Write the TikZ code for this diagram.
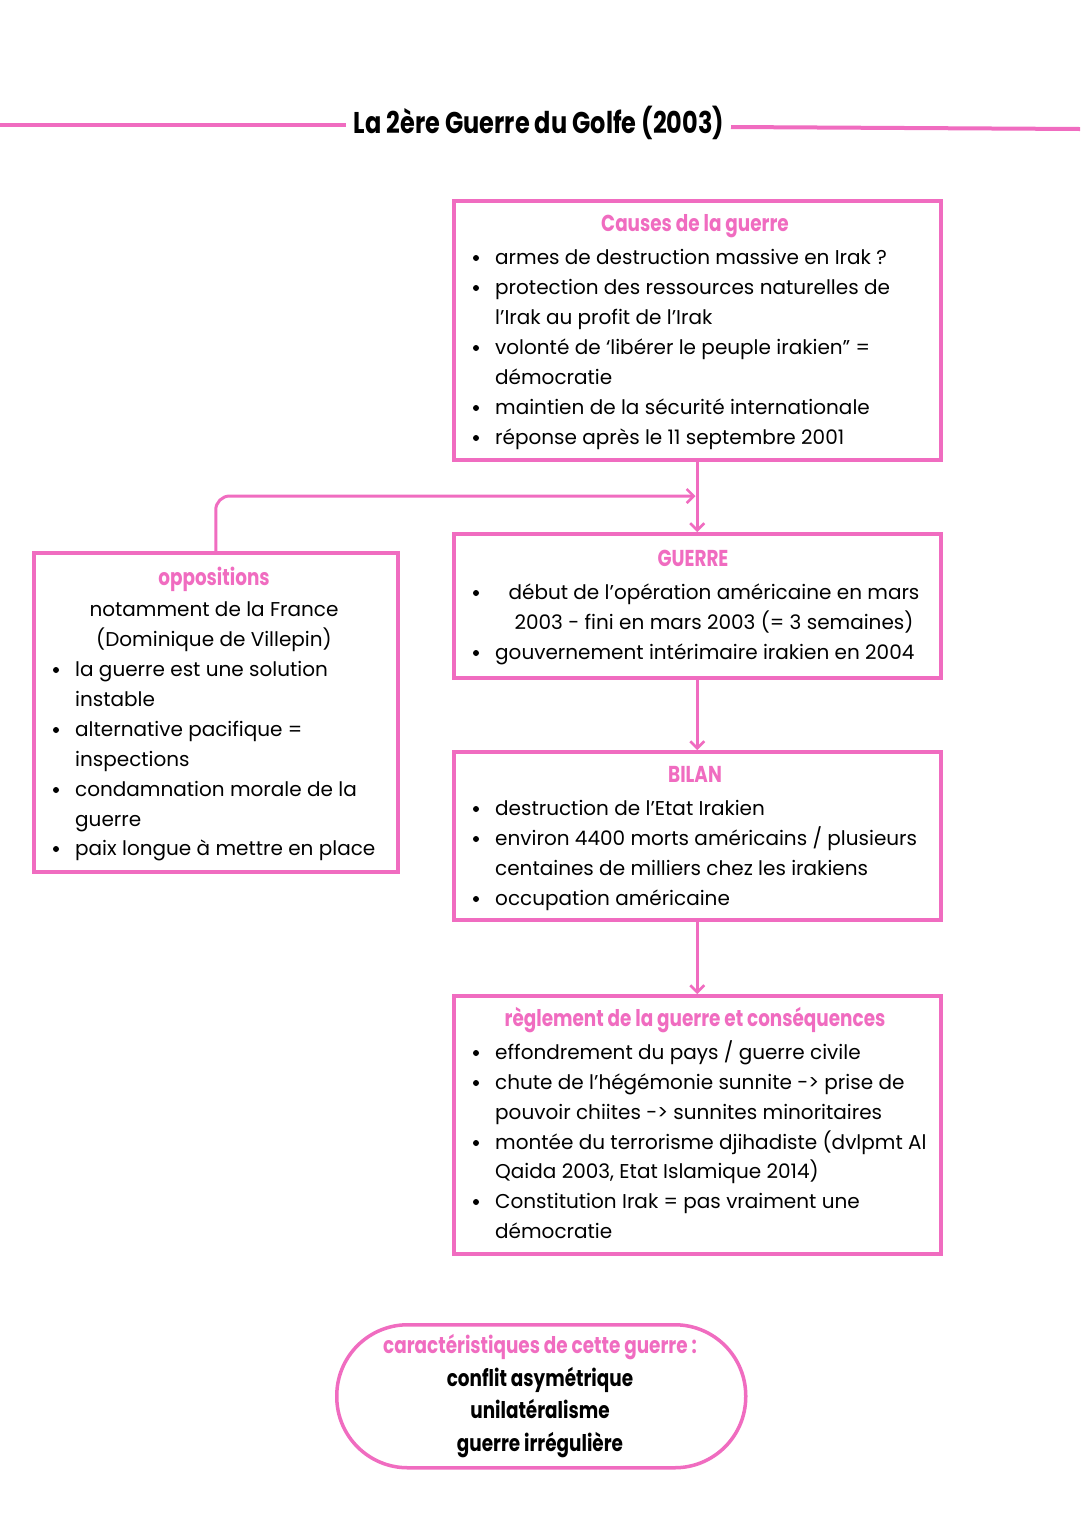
\documentclass[tikz,border=0pt]{standalone}
\usepackage{fontspec}
\setmainfont{Poppins}
\newfontfamily\headfont{Poppins}[FakeStretch=0.8]
\usetikzlibrary{arrows.meta}
\definecolor{pk}{RGB}{240,108,192}
\tikzset{
  box/.style={draw=pk, line width=3.5pt, rectangle, anchor=north west, inner sep=0pt},
  conn/.style={draw=pk, line width=3pt, -{Straight Barb[length=7pt,width=14pt,line width=2.5pt]}},
  txt/.style={anchor=base west, inner sep=0pt, font=\fontsize{20}{22}\selectfont},
  ctxt/.style={anchor=base, inner sep=0pt, font=\fontsize{20}{22}\selectfont},
  head/.style={anchor=base, inner sep=0pt, text=pk, font=\headfont\bfseries\fontsize{23}{25}\selectfont},
  blk/.style={anchor=base, inner sep=0pt, text=black, font=\headfont\bfseries\fontsize{23}{25}\selectfont},
  dot/.style={circle, fill=black, inner sep=0pt, minimum size=6pt}
}
\begin{document}
\begin{tikzpicture}[x=1pt,y=-1pt]
\useasboundingbox (0,0) rectangle (1080,1527);
\fill[white] (0,0) rectangle (1080,1527);

% title
\node[anchor=base, inner sep=0pt, font=\headfont\bfseries\fontsize{30}{32}\selectfont] (title) at (539,133) {La 2ère Guerre du Golfe (2003)};
\coordinate (tl) at (0,125);
\coordinate (tr) at (1080,129);
\coordinate (tlm) at (346,125);
\coordinate (trm) at (731,127);
\draw[pk, line width=4pt] (tl) -- (tlm);
\draw[pk, line width=4pt] (trm) -- (tr);

% boxes
\node[box, minimum width=487pt, minimum height=259pt] (causes) at (452,199) {};
\node[box, minimum width=487pt, minimum height=144pt] (guerre) at (452,532) {};
\node[box, minimum width=487pt, minimum height=168pt] (bilan) at (452,750) {};
\node[box, minimum width=487pt, minimum height=258pt] (regl) at (452,994) {};
\node[box, minimum width=364pt, minimum height=319pt] (opp) at (32,551) {};
\node[draw=pk, line width=3.5pt, rounded corners=71pt, minimum width=409pt, minimum height=143pt, anchor=north west, inner sep=0pt] (carac) at (335,1323) {};

% connectors
\coordinate (j) at (695.5,496);
\draw[conn] (causes.south) -- (guerre.north);
\draw[conn, rounded corners=14pt] (opp.north) |- (j);
\draw[conn] (guerre.south) -- (bilan.north);
\draw[conn] (bilan.south) -- (regl.north);

% causes text
\node[head] (h1) at (695,231) {Causes de la guerre};
\node[dot] (d11) at (476,258) {};
\node[txt] (t11) at (495,264) {armes de destruction massive en Irak ?};
\node[dot] (d12) at (476,288) {};
\node[txt] (t12) at (495,294) {protection des ressources naturelles de};
\node[txt] (t13) at (495,324) {l’Irak au profit de l’Irak};
\node[dot] (d14) at (476,348) {};
\node[txt] (t14) at (495,354) {volonté de ‘libérer le peuple irakien” =};
\node[txt] (t15) at (495,384) {démocratie};
\node[dot] (d16) at (476,408) {};
\node[txt] (t16) at (495,414) {maintien de la sécurité internationale};
\node[dot] (d17) at (476,438) {};
\node[txt] (t17) at (495,444) {réponse après le 11 septembre 2001};

% guerre text
\node[head] (h2) at (693,566) {GUERRE};
\node[dot] (d21) at (476,593) {};
\node[ctxt] (t21) at (714,599) {début de l’opération américaine en mars};
\node[ctxt] (t22) at (714,629) {2003 - fini en mars 2003 (= 3 semaines)};
\node[dot] (d23) at (476,653) {};
\node[txt] (t23) at (495,659) {gouvernement intérimaire irakien en 2004};

% bilan text
\node[head] (h3) at (695,782) {BILAN};
\node[dot] (d31) at (476,809) {};
\node[txt] (t31) at (495,815) {destruction de l’Etat Irakien};
\node[dot] (d32) at (476,839) {};
\node[txt] (t32) at (495,845) {environ 4400 morts américains / plusieurs};
\node[txt] (t33) at (495,875) {centaines de milliers chez les irakiens};
\node[dot] (d34) at (476,899) {};
\node[txt] (t34) at (495,905) {occupation américaine};

% reglement text
\node[head] (h4) at (695,1026) {règlement de la guerre et conséquences};
\node[dot] (d41) at (476,1053) {};
\node[txt] (t41) at (495,1059) {effondrement du pays / guerre civile};
\node[dot] (d42) at (476,1083) {};
\node[txt] (t42) at (495,1089) {chute de l’hégémonie sunnite -> prise de};
\node[txt] (t43) at (495,1119) {pouvoir chiites -> sunnites minoritaires};
\node[dot] (d44) at (476,1143) {};
\node[txt] (t44) at (495,1149) {montée du terrorisme djihadiste (dvlpmt Al};
\node[txt] (t45) at (495,1178) {Qaida 2003, Etat Islamique 2014)};
\node[dot] (d46) at (476,1202) {};
\node[txt] (t46) at (495,1208) {Constitution Irak = pas vraiment une};
\node[txt] (t47) at (495,1238) {démocratie};

% oppositions text
\node[head] (h5) at (214,585) {oppositions};
\node[ctxt] (t51) at (214,616) {notamment de la France};
\node[ctxt] (t52) at (214,646) {(Dominique de Villepin)};
\node[dot] (d53) at (56,670) {};
\node[txt] (t53) at (75,676) {la guerre est une solution};
\node[txt] (t54) at (75,706) {instable};
\node[dot] (d55) at (56,730) {};
\node[txt] (t55) at (75,736) {alternative pacifique =};
\node[txt] (t56) at (75,766) {inspections};
\node[dot] (d57) at (56,790) {};
\node[txt] (t57) at (75,796) {condamnation morale de la};
\node[txt] (t58) at (75,826) {guerre};
\node[dot] (d59) at (56,849) {};
\node[txt] (t59) at (75,855) {paix longue à mettre en place};

% caracteristiques
\node[head] (h6) at (540,1353) {caractéristiques de cette guerre :};
\node[blk] (t61) at (540,1386) {conflit asymétrique};
\node[blk] (t62) at (540,1418) {unilatéralisme};
\node[blk] (t63) at (540,1451) {guerre irrégulière};
\end{tikzpicture}
\end{document}
